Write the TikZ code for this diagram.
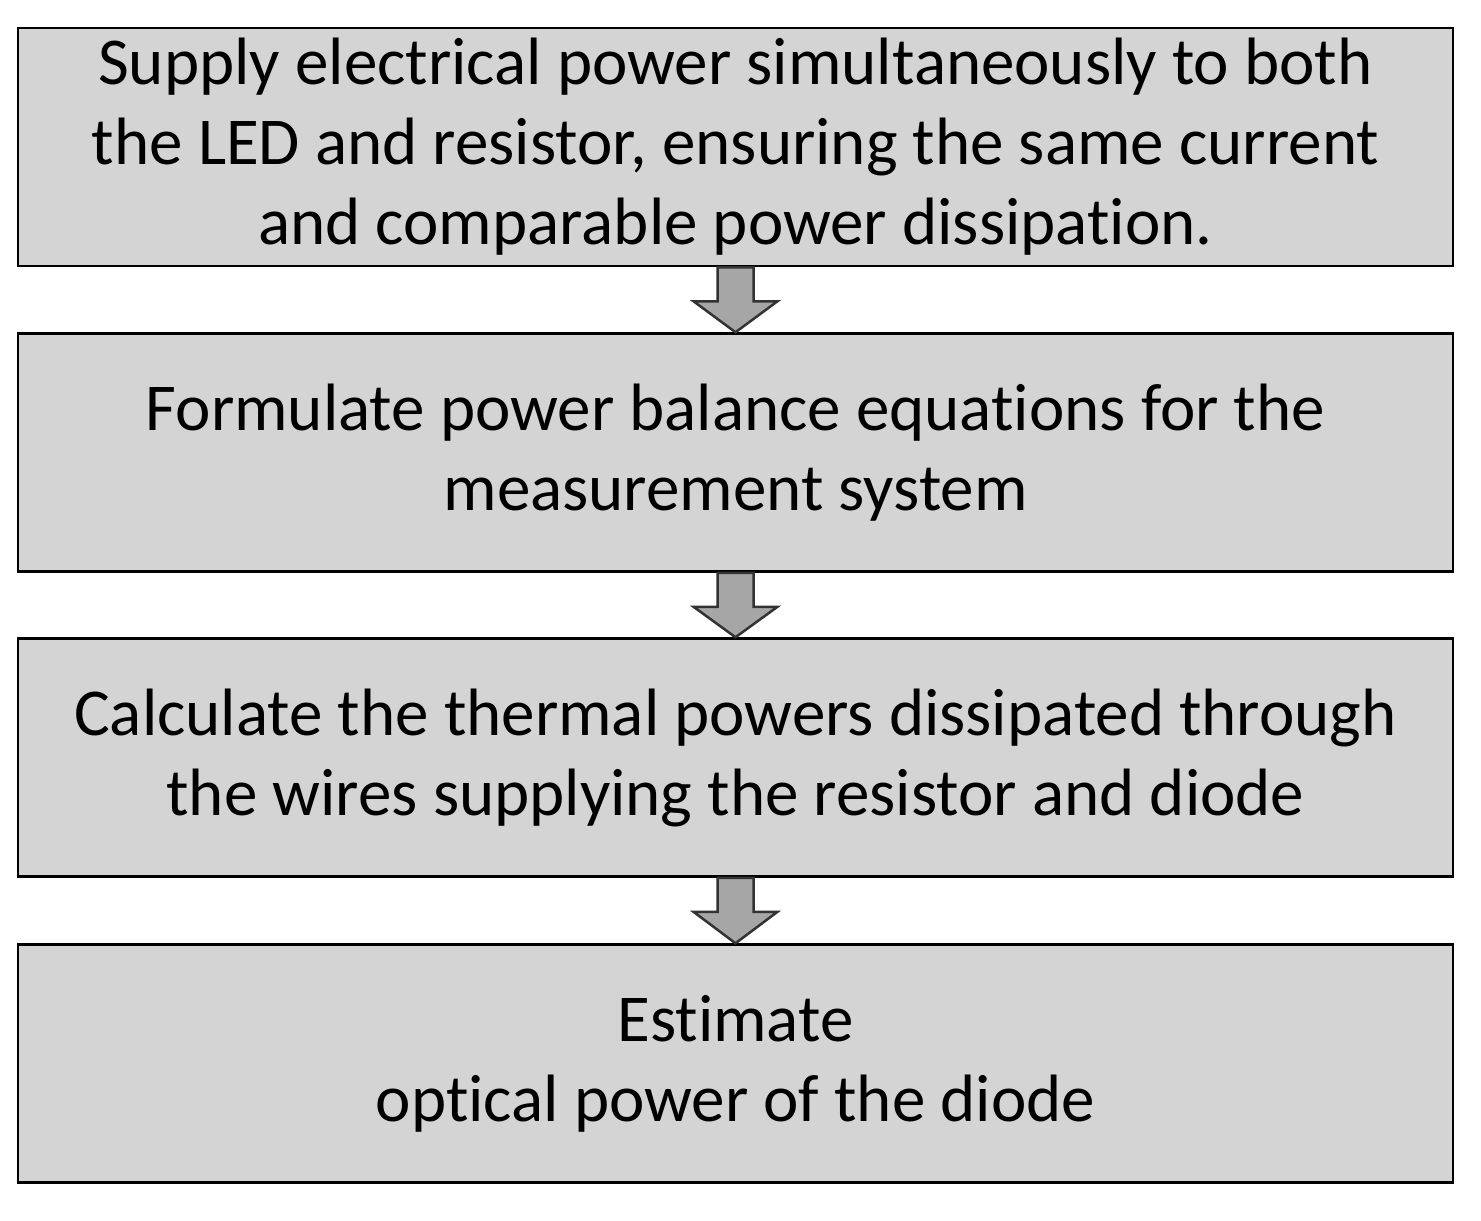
\documentclass[tikz,border=0pt]{standalone}
\usepackage{fontspec}
\setmainfont{Carlito}[Ligatures={NoCommon}]
\usetikzlibrary{calc}
\begin{document}
\begin{tikzpicture}[x=1pt,y=-1pt,
  box/.style={draw=black,line width=2.5pt,fill=black!17,minimum width=1435pt,minimum height=238pt,inner sep=0pt,align=center,
    font=\fontsize{67}{80}\selectfont},
  barrow/.style={draw=black!80,line width=2.5pt,fill=black!35,line join=miter}]
\useasboundingbox (0,0) rectangle (1481,1221);
\node[box] (b1) at (735.5,147) {Supply electrical power simultaneously to both\\the LED and resistor, ensuring the same current\\and comparable power dissipation.};
\node[box] (b2) at (735.5,452.5) {Formulate power balance equations for the\\measurement system};
\node[box] (b3) at (735.5,757.5) {Calculate the thermal powers dissipated through\\the wires supplying the resistor and diode};
\node[box] (b4) at (735.5,1063.5) {Estimate\\optical power of the diode};
\foreach \a/\b in {b1/b2,b2/b3,b3/b4}{
  \draw[barrow] ($(\a.south)+(-18,0)$) -- ($(\a.south)+(-18,34)$) -- ($(\a.south)+(-42,34)$)
    -- (\b.north) -- ($(\a.south)+(42,34)$) -- ($(\a.south)+(18,34)$) -- ($(\a.south)+(18,0)$) -- cycle;
}
\end{tikzpicture}
\end{document}
